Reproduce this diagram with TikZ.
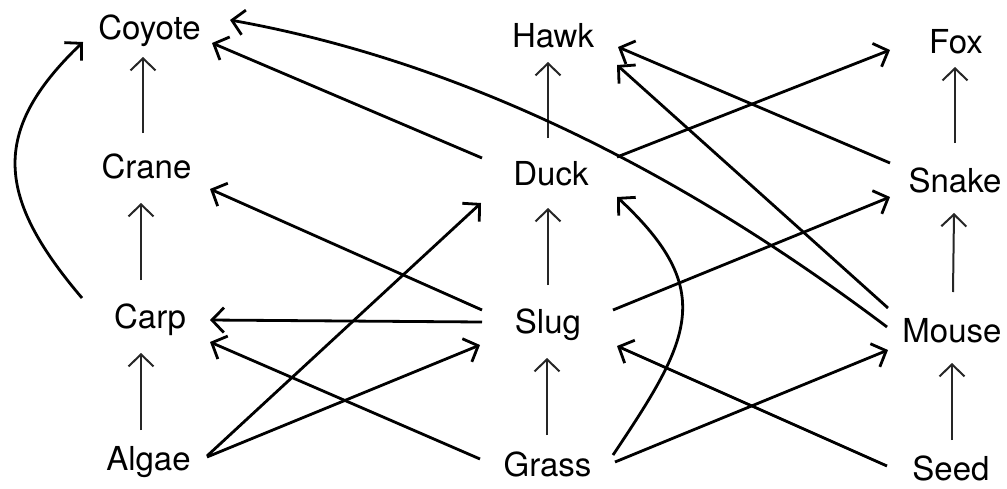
\documentclass[tikz,border=0pt]{standalone}
\usepackage{fontspec}
\setmainfont{TeX Gyre Heros}
\usetikzlibrary{arrows.meta}
\begin{document}
\begin{tikzpicture}[x=1pt,y=-1pt,
  lbl/.style={anchor=base,inner sep=0pt,font=\fontsize{33}{40}\selectfont},
  feeds/.style={line width=2.8pt,-{Straight Barb[length=12pt,width=25pt]}},
  upfeed/.style={line width=2pt,black!85,-{Straight Barb[length=12pt,width=25pt]}}]
\fill[white] (0,0) rectangle (1007,488);
\useasboundingbox (0,0) rectangle (1007,488);

% species, placed at their baselines
\node[lbl] (coyote) at (149.5,39) {Coyote};
\node[lbl] (hawk)   at (553,47)   {Hawk};
\node[lbl] (fox)    at (956,53)   {Fox};
\node[lbl] (crane)  at (146.5,178){Crane};
\node[lbl] (duck)   at (551,185)  {Duck};
\node[lbl] (snake)  at (955,192)  {Snake};
\node[lbl] (carp)   at (150,328)  {Carp};
\node[lbl] (slug)   at (548,333)  {Slug};
\node[lbl] (mouse)  at (952,342)  {Mouse};
\node[lbl] (algae)  at (148.5,470){Algae};
\node[lbl] (grass)  at (547.5,476){Grass};
\node[lbl] (seed)   at (951,480)  {Seed};

% links straight up each column
\draw[upfeed] ([shift={(-3.5,-45)}]crane.base) -- ([shift={(-6.5,18)}]coyote.base);
\draw[upfeed] ([shift={(-9,-48)}]carp.base)    -- ([shift={(-5.5,25)}]crane.base);
\draw[upfeed] ([shift={(-7.5,-40)}]algae.base) -- ([shift={(-9,25)}]carp.base);
\draw[upfeed] ([shift={(-3,-47)}]duck.base)    -- ([shift={(-5,15)}]hawk.base);
\draw[upfeed] ([shift={(0,-48)}]slug.base)     -- ([shift={(-3,23)}]duck.base);
\draw[upfeed] ([shift={(-0.5,-41)}]grass.base) -- ([shift={(-1,25)}]slug.base);
\draw[upfeed] ([shift={(0,-49)}]snake.base)    -- ([shift={(-1,14)}]fox.base);
\draw[upfeed] ([shift={(1,-50)}]mouse.base)    -- ([shift={(-1,21)}]snake.base);
\draw[upfeed] ([shift={(1,-40)}]seed.base)     -- ([shift={(0,21)}]mouse.base);

% links across columns
\draw[feeds] ([shift={(-68,-30)}]carp.base)
  .. controls +(-85,-100) and +(-94,90) .. ([shift={(-66.5,3)}]coyote.base);
\draw[feeds] ([shift={(-69,-27)}]duck.base)  -- ([shift={(62.5,4)}]coyote.base);
\draw[feeds] ([shift={(-65,-15)}]mouse.base)
  .. controls +(-220,-166) and +(218,39) .. ([shift={(80.5,-19)}]coyote.base);
\draw[feeds] ([shift={(-66,-23)}]slug.base)  -- ([shift={(63.5,11)}]crane.base);
\draw[feeds] ([shift={(-66,-11)}]slug.base)  -- ([shift={(60,-8)}]carp.base);
\draw[feeds] ([shift={(-67.5,-17)}]grass.base) -- ([shift={(60,14)}]carp.base);
\draw[feeds] ([shift={(58.5,-14)}]algae.base) -- ([shift={(-70,18)}]duck.base);
\draw[feeds] ([shift={(58.5,-13)}]algae.base) -- ([shift={(-68,12)}]slug.base);
\draw[feeds] ([shift={(66,-28)}]duck.base)   -- ([shift={(-66,-3)}]fox.base);
\draw[feeds] ([shift={(-65,-29)}]snake.base) -- ([shift={(65,0)}]hawk.base);
\draw[feeds] ([shift={(-64,-34)}]mouse.base) -- ([shift={(64,18)}]hawk.base);
\draw[feeds] ([shift={(65,-23)}]slug.base)   -- ([shift={(-65,5)}]snake.base);
\draw[feeds] ([shift={(65.5,-21)}]grass.base)
  .. controls +(77,-115) and +(101,94) .. ([shift={(66,12)}]duck.base);
\draw[feeds] ([shift={(67.5,-14)}]grass.base) -- ([shift={(-64,8)}]mouse.base);
\draw[feeds] ([shift={(-64,-14)}]seed.base)  -- ([shift={(69,13)}]slug.base);
\end{tikzpicture}
\end{document}
